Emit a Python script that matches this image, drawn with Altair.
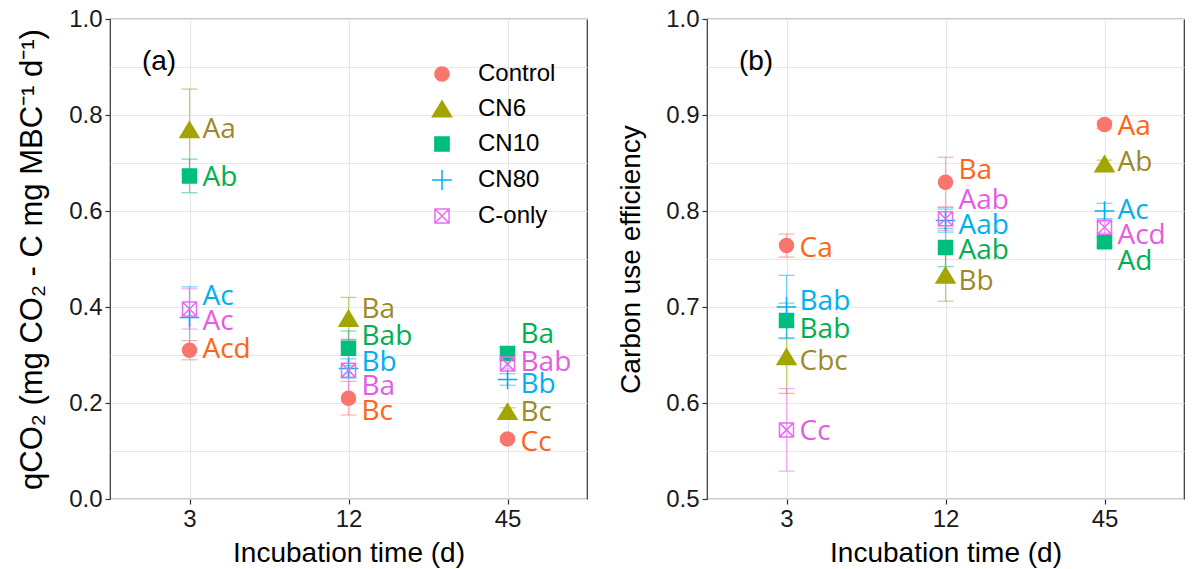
import altair as alt
import pandas as pd

times = ["3", "12", "45"]
treatments = ["Control", "CN6", "CN10", "CN80", "C-only"]

# ---- panel (a): qCO2, values per treatment at 3, 12, 45 d
qco2_mean = {
    "Control": [0.310, 0.210, 0.125],
    "CN6":     [0.769, 0.376, 0.182],
    "CN10":    [0.673, 0.314, 0.303],
    "CN80":    [0.378, 0.272, 0.249],
    "C-only":  [0.396, 0.268, 0.281],
}
qco2_se = {
    "Control": [0.020, 0.035, 0.006],
    "CN6":     [0.085, 0.044, 0.008],
    "CN10":    [0.035, 0.036, 0.014],
    "CN80":    [0.064, 0.020, 0.012],
    "C-only":  [0.042, 0.065, 0.010],
}
qco2_letters = {
    "Control": ["Acd", "Bc", "Cc"],
    "CN6":     ["Aa", "Ba", "Bc"],
    "CN10":    ["Ab", "Bab", "Ba"],
    "CN80":    ["Ac", "Bb", "Bb"],
    "C-only":  ["Ac", "Ba", "Bab"],
}
qco2_label_y = {
    "Control": [0.310, 0.182, 0.116],
    "CN6":     [0.769, 0.394, 0.179],
    "CN10":    [0.669, 0.338, 0.342],
    "CN80":    [0.421, 0.283, 0.238],
    "C-only":  [0.369, 0.234, 0.283],
}

# ---- panel (b): carbon use efficiency
cue_mean = {
    "Control": [0.764, 0.830, 0.890],
    "CN6":     [0.648, 0.733, 0.849],
    "CN10":    [0.686, 0.762, 0.768],
    "CN80":    [0.700, 0.790, 0.800],
    "C-only":  [0.572, 0.792, 0.783],
}
cue_se = {
    "Control": [0.012, 0.026, 0.004],
    "CN6":     [0.038, 0.027, 0.004],
    "CN10":    [0.018, 0.020, 0.005],
    "CN80":    [0.033, 0.012, 0.008],
    "C-only":  [0.043, 0.012, 0.006],
}
cue_letters = {
    "Control": ["Ca", "Ba", "Aa"],
    "CN6":     ["Cbc", "Bb", "Ab"],
    "CN10":    ["Bab", "Aab", "Ad"],
    "CN80":    ["Bab", "Aab", "Ac"],
    "C-only":  ["Cc", "Aab", "Acd"],
}
cue_label_y = {
    "Control": [0.760, 0.842, 0.888],
    "CN6":     [0.643, 0.726, 0.850],
    "CN10":    [0.676, 0.758, 0.747],
    "CN80":    [0.7055, 0.784, 0.800],
    "C-only":  [0.570, 0.810, 0.774],
}

marker_colors = ["#F8766D", "#A3A500", "#00BF7D", "#00B0F6", "#E76BF3"]
fill_colors = ["#F8766D", "#A3A500", "#00BF7D", "transparent", "transparent"]
label_colors = ["#FF6418", "#9C8A2A", "#00B050", "#00B0F0", "#E35CE3"]
shapes = [
    "circle",
    "M0,-1.15L1.35,1.1L-1.35,1.1Z",
    "square",
    "M-1.4,0H1.4M0,-1.4V1.4",
    "M-1,-1H1V1H-1ZM-1,-1L1,1M1,-1L-1,1",
]

AXIS_FONT = "Liberation Sans"
LABEL_FONT = "Open Sans"


def make_panel(mean, se, letters, label_y, ydomain, yvalues, minor_test,
               ytitle, ytitle_size, tag, show_legend):
    rows = []
    for t in treatments:
        for j, tm in enumerate(times):
            m, s = mean[t][j], se[t][j]
            rows.append(dict(time=tm, treatment=t, mean=m, lo=m - s, hi=m + s,
                             letter=letters[t][j], ly=label_y[t][j]))
    df = pd.DataFrame(rows)

    x = alt.X("time:O", sort=times,
              scale=alt.Scale(type="point", padding=0.5),
              axis=alt.Axis(title="Incubation time (d)", labelAngle=0, grid=True))
    yscale = alt.Scale(domain=ydomain, nice=False, zero=False)
    yaxis = alt.Axis(
        values=yvalues, title=ytitle, grid=True, labelOverlap=False,
        titleFontSize=ytitle_size, titlePadding=20,
        labelExpr=f"({minor_test}) ? '' : format(datum.value, '.1f')",
        tickOpacity={"condition": {"test": minor_test, "value": 0}, "value": 1},
    )

    if show_legend:
        legend = alt.Legend(title=None, orient="none", legendX=320, legendY=43,
                            labelFont=AXIS_FONT, labelFontSize=24,
                            labelColor="#000000", symbolSize=200,
                            symbolStrokeWidth=1.5, symbolOpacity=1,
                            rowPadding=11, labelOffset=24, padding=0)
        stroke = alt.Stroke("treatment:N",
                            scale=alt.Scale(domain=treatments, range=marker_colors),
                            legend=legend)
    else:
        legend = None
        stroke = alt.Stroke("treatment:N",
                            scale=alt.Scale(domain=treatments, range=marker_colors),
                            legend=None)
    base = alt.Chart(df)

    err = base.mark_rule(strokeWidth=1.2, opacity=0.55).encode(
        x=x, y=alt.Y("lo:Q", scale=yscale, axis=yaxis), y2="hi:Q", stroke=stroke)
    cap_lo = base.mark_point(shape="M-1,0H1", size=256, filled=False,
                             strokeWidth=1.2, opacity=0.55).encode(
        x=x, y=alt.Y("lo:Q", scale=yscale), stroke=stroke)
    cap_hi = base.mark_point(shape="M-1,0H1", size=256, filled=False,
                             strokeWidth=1.2, opacity=0.55).encode(
        x=x, y=alt.Y("hi:Q", scale=yscale), stroke=stroke)

    pts = base.mark_point(filled=False, size=196, strokeWidth=1.5, opacity=1).encode(
        x=x, y=alt.Y("mean:Q", scale=yscale),
        stroke=stroke,
        fill=alt.Fill("treatment:N",
                      scale=alt.Scale(domain=treatments, range=fill_colors),
                      legend=legend),
        shape=alt.Shape("treatment:N",
                        scale=alt.Scale(domain=treatments, range=shapes),
                        legend=legend),
    )
    txt = base.mark_text(align="left", baseline="middle", dx=13,
                         font=LABEL_FONT, fontSize=28).encode(
        x=x, y=alt.Y("ly:Q", scale=yscale), text="letter:N",
        color=alt.Color("treatment:N",
                        scale=alt.Scale(domain=treatments, range=label_colors),
                        legend=None),
    )
    tag_layer = alt.Chart(pd.DataFrame({"tag": [tag]})).mark_text(
        font=AXIS_FONT, fontSize=28, align="center", baseline="middle",
        color="#000000").encode(text="tag:N", x=alt.value(49), y=alt.value(43))

    return alt.layer(err, cap_lo, cap_hi, pts, txt, tag_layer).properties(
        width=477, height=480)


minor_a = "round(datum.value * 10) % 2 != 0"
minor_b = "round(datum.value * 100) % 10 != 0"

panel_a = make_panel(qco2_mean, qco2_se, qco2_letters, qco2_label_y,
                     [0, 1], [round(i * 0.1, 2) for i in range(11)], minor_a,
                     "qCO₂ (mg CO₂ - C mg MBC⁻¹ d⁻¹)", 31, "(a)", True)
panel_b = make_panel(cue_mean, cue_se, cue_letters, cue_label_y,
                     [0.5, 1], [round(0.5 + i * 0.05, 3) for i in range(11)], minor_b,
                     "Carbon use efficiency", 28, "(b)", False)

chart = alt.hconcat(panel_a, panel_b, spacing=29).resolve_scale(
    stroke="independent", fill="independent", shape="independent",
    color="independent",
).properties(
    padding={"left": 16, "top": 6, "right": 4, "bottom": 4},
).configure_view(
    stroke="#333333", strokeWidth=1.2,
).configure_axis(
    labelFont=AXIS_FONT, titleFont=AXIS_FONT, labelFontSize=24, titleFontSize=28,
    labelColor="#1a1a1a", titleColor="#000000", titleFontWeight="normal",
    gridColor="#E6E6E6", gridWidth=1.2, domain=False,
    tickColor="#333333", tickSize=5, tickWidth=1.2, labelPadding=3,
    titlePadding=8,
)

chart.save("out.html", embed_options={"renderer": "svg", "actions": False})
